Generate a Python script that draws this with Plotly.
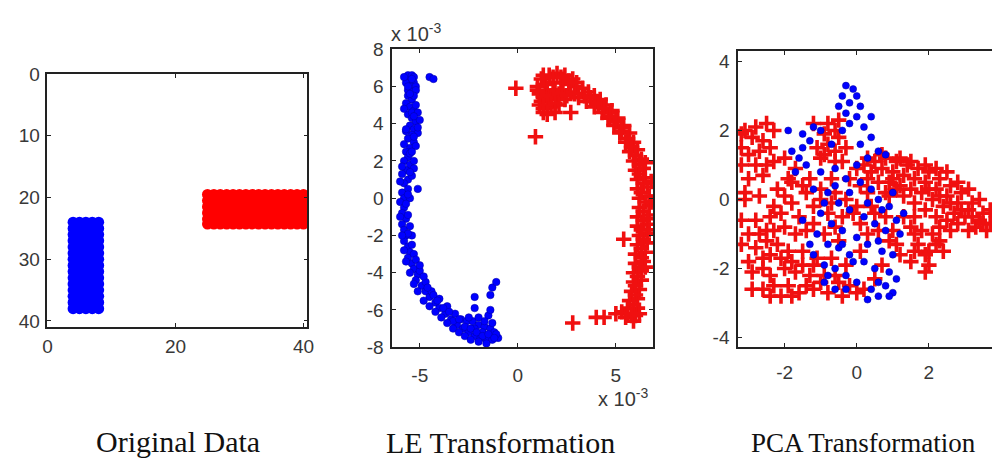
import plotly.graph_objects as go

# ---------------- Panel 1: Original Data ----------------
orig_blue_cols = [4, 5, 6, 7, 8]
orig_blue_rows = [24, 25, 26, 27, 28, 29, 30, 31, 32, 33, 34, 35, 36, 37, 38]
orig_red_cols = [25, 26, 27, 28, 29, 30, 31, 32, 33, 34, 35, 36, 37, 38, 39, 40]
orig_red_rows = [19.5, 20.5, 21.5, 22.5, 23.5, 24.3]

# ---------------- Panel 2: LE Transformation (units of 1e-3) ----------------
le_blue_x = [-5.6, -5.4, -5.3, -5.5, -5.7, -5.3, -5.5, -5.2, -5.6, -5.4, -5.2, -4.5, -4.3,
             -5.6, -5.4, -5.7, -5.5, -5.3, -5.6, -5.4, -5.2, -5.5, -5.3, -5.1, -5.4, -5.6, -5.3,
             -5.5, -5.7, -5.6, -5.8, -5.5, -5.7, -5.9, -5.6, -5.8, -5.6, -5.9, -5.1, -5.8, -6.0,
             -5.8, -5.9, -5.7, -5.9, -5.8, -5.7, -5.8, -5.6, -5.5, -5.6, -5.4, -5.3, -5.1, -5.2,
             -4.9, -4.7, -4.5, -4.2, -4.0, -3.7, -3.4, -3.1, -2.8, -2.5, -2.2, -1.9, -1.6, -1.3,
             -1.0, -5.4, -5.3, -5.0, -4.7, -4.4, -4.0, -3.6, -3.2, -2.9, -2.6, -2.3, -2.0, -1.7,
             -1.4, -1.2, -2.2, -1.8, -1.5, -1.4, -2.2, -2.2, -1.4, -1.3, -1.1, -1.1, -2.5,
             -5.3, -5.4, -5.5, -5.4, -5.7, -5.5,
             -5.3, -5.2, -5.1, -5.0, -5.3, -5.1, -5.3, -5.2, -5.4, -5.3, -5.5, -5.6, -5.7, -5.6,
             -5.5, -5.6, -5.4, -5.2, -5.0, -4.8, -4.6, -4.3, -4.1, -3.8, -3.5, -3.3, -3.0, -2.7,
             -2.4, -2.1, -1.8, -1.5, -1.3, -1.7, -2.0, -1.2, -5.8, -5.4, -5.6, -5.5, -5.8, -5.7,
             -5.8, -5.9, -6.0, -6.0, -5.9, -5.8, -5.7, -5.5, -5.3, -5.1, -4.8, -4.5, -4.2, -3.9,
             -3.6, -3.3, -3.0, -2.7, -2.4, -2.0, -1.6]
le_blue_y = [6.6, 6.6, 6.5, 6.3, 6.2, 6.2, 6.0, 6.0, 5.8, 5.7, 5.8, 6.5, 6.4,
             5.5, 5.3, 5.1, 4.9, 4.7, 4.5, 4.3, 4.1, 3.9, 3.7, 3.5, 3.4, 3.2, 3.0,
             2.7, 2.5, 2.2, 2.0, 1.8, 1.5, 1.3, 1.0, 0.8, 0.5, 0.3, 0.5, 0.0, -0.2,
             -0.5, -0.8, -1.1, -1.4, -1.7, -2.0, -2.3, -2.6, -2.9, -3.2, -3.5, -3.8, -4.1, -4.4,
             -4.7, -5.0, -5.3, -5.6, -5.9, -6.2, -6.5, -6.8, -7.0, -7.2, -7.4, -7.5, -7.6, -7.6,
             -7.5, -2.0, -3.0, -3.9, -4.5, -5.0, -5.4, -5.8, -6.2, -6.5, -6.6, -6.6, -6.8, -6.9,
             -7.0, -7.2, -7.0, -7.2, -6.3, -6.0, -5.9, -5.3, -5.2, -4.8, -4.5, -7.3, -6.4,
             2.0, 1.2, 0.0, 4.6, 3.6, 2.4,
             5.5, 5.0, 4.6, 4.2, 4.4, 3.8, 3.3, 2.8, 2.5, 1.6, 1.4, 0.2, -0.3, -0.9,
             -1.5, -1.9, -2.5, -3.3, -3.6, -4.2, -4.8, -5.2, -5.5, -5.9, -6.1, -6.6, -6.5, -6.9,
             -7.0, -7.2, -7.4, -7.3, -6.7, -6.6, -6.4, -7.5, 6.5, 6.4, 6.0, 5.6, 4.8, 3.7,
             2.9, 1.7, 0.9, -1.0, -2.0, -2.8, -3.4, -4.0, -4.6, -5.0, -5.5, -5.8, -6.1, -6.4,
             -6.7, -7.0, -7.2, -7.4, -7.6, -7.7, -7.8]

le_red_x = [1.2, 1.6, 2.0, 2.4, 2.8, 1.0, 1.4, 1.8, 2.2, 2.6, 3.0, 1.1, 1.5, 1.9, 2.3, 2.7,
            1.2, 1.6, 2.0, 2.4, 1.3, 1.7, 2.1, 1.5,
            3.3, 3.6, 3.9, 4.2, 4.5, 4.8, 5.1, 5.4, 5.7, 5.9, 6.1, 6.3, 6.4, 6.5, 6.6, 6.7,
            6.7, 6.7, 6.6, 6.6, 6.6, 6.5, 6.4, 6.3, 6.3, 6.2, 6.1, 6.1, 6.0,
            3.1, 3.5, 3.9, 4.3, 4.6, 4.9, 5.2, 5.5, 5.7, 5.9, 6.0, 6.1, 6.1, 6.2, 6.2, 6.1,
            6.1, 6.2, 6.1, 6.0, 6.0, 5.9, 5.9, 5.8, 5.7, 5.6, 5.3, 5.5, 5.9, 5.0,
            4.0, 4.7, 5.3, 5.8, 6.2, 6.4, 6.5, 6.4, 6.4, 6.3, 6.1, 6.0,
            -0.1, 0.9, 2.7, 5.4, 2.8, 4.0, 4.4,
            1.3, 1.8, 2.2, 2.6, 3.0, 1.0, 1.3, 1.7, 2.1, 2.5, 2.9, 1.1, 1.5, 1.9, 1.3, 1.9,
            3.4, 3.7, 4.1, 4.4, 4.7, 5.0, 5.3, 5.6, 5.8, 6.0, 6.2, 6.3, 6.4, 6.3, 6.3, 6.2,
            6.0, 5.9, 5.6, 5.8, 6.2, 6.5, 6.6, 6.5, 6.8, 6.8, 6.7]
le_red_y = [6.4, 6.6, 6.7, 6.6, 6.4, 6.0, 6.1, 6.2, 6.2, 6.1, 6.0, 5.6, 5.7, 5.8, 5.8, 5.7,
            5.2, 5.3, 5.4, 5.3, 4.8, 4.9, 5.0, 4.5,
            5.9, 5.7, 5.5, 5.3, 5.0, 4.7, 4.3, 3.9, 3.5, 3.0, 2.6, 2.1, 1.6, 1.1, 0.6, 0.1,
            -0.4, -0.9, -1.4, -1.9, -2.4, -2.9, -3.4, -3.9, -4.4, -4.9, -5.4, -5.9, -6.3,
            5.4, 5.2, 4.9, 4.6, 4.3, 3.9, 3.5, 3.0, 2.5, 2.0, 1.5, 1.0, 0.5, 0.0, -0.5, -1.0,
            -1.5, -2.0, -2.5, -3.0, -3.5, -4.0, -4.5, -5.0, -5.5, -5.9, -6.1, -6.4, -6.6, -6.2,
            5.2, 4.6, 3.8, 2.8, 1.8, 0.8, -0.2, -1.2, -2.2, -3.2, -4.2, -5.2,
            5.9, 3.3, 4.6, -2.2, -6.7, -6.4, -6.4,
            6.6, 6.5, 6.5, 6.3, 6.2, 5.8, 5.4, 5.5, 5.6, 5.5, 5.6, 5.0, 5.0, 5.1, 4.6, 4.6,
            5.5, 5.4, 5.1, 4.8, 4.4, 4.1, 3.6, 3.2, 2.7, 2.3, 1.3, 0.3, -0.7, -1.7, -2.7, -3.7,
            -4.7, -5.7, -6.2, -6.3, -6.2, 1.9, -1.1, -3.7, -0.2, 0.9, -1.7]

# ---------------- Panel 3: PCA Transformation ----------------
pca_blue_x = [-0.3, -0.1, 0.0, -0.4, -0.2, 0.1, -0.5, -0.3, 0.0, -0.2, 0.2, -0.4, 0.4, 0.1, 0.6, 0.3, 0.8,
              -1.2, -1.0, -1.5, -1.6, -1.4, -1.7, -1.5, -1.3, -1.8, -1.9,
              -1.0, -0.6, -0.3, 0.1, 0.4, 0.6, 0.9, -0.8, -0.5, -0.2, 0.2, 0.5, 0.8, 1.1, 1.2,
              -1.0, -0.7, -0.4, 0.0, 0.3, 0.7, 1.0, -1.1, -0.8, -0.5, -0.2, 0.2, 0.5, 0.9, 1.1,
              -1.2, -0.9, -0.6, -0.3, 0.0, 0.4, 0.8, 1.0, 0.3, 0.6, -0.6, -0.9, -1.3, -1.5, -1.2,
              -0.3, 0.9, 1.3, 1.0, -0.6, -0.9, 0.3, 0.6, -0.2,
              -0.1, 0.6, 0.7, -0.4, -0.8, 0.0, -0.7, 0.4]
pca_blue_y = [3.3, 3.2, 3.0, 3.0, 2.8, 2.7, 2.7, 2.5, 2.4, 2.2, 2.1, 2.0, 1.8, 1.6, 1.4, 1.2, 1.3,
              2.1, 2.0, 1.5, 1.2, 1.0, 0.8, 1.9, 1.7, 1.4, 2.0,
              0.8, 0.9, 0.6, 0.5, 0.3, 0.0, -0.2, 0.2, -0.1, -0.3, -0.5, -0.7, -0.9, -0.6, -1.0,
              -0.4, -0.7, -0.9, -1.1, -1.3, -1.5, -1.6, -1.0, -1.3, -1.4, -1.6, -1.8, -2.0, -2.1, -2.3,
              -1.6, -1.9, -2.0, -2.2, -2.4, -2.6, -2.5, -2.7, -2.9, -2.8, -2.6, -2.4, -1.3, -0.6, 0.3,
              -2.6, -2.8, -0.4, 0.2, 0.4, -0.1, -0.1, -1.2, 0.2,
              -1.8, -2.4, -0.3, -1.3, -2.2, 1.0, 1.6, 2.4]

pca_red_x = [-3.1, -2.8, -2.5, -2.3, -2.9, -2.6, -3.2, -3.0, -2.8, -2.5, -2.3, -3.2, -2.6, -3.0,
             -1.2, -0.8, -0.6, -0.9, -0.5, -0.8, -1.1, -0.6, -0.3, -1.0, -0.4,
             0.2, 0.5, 0.8, 1.1, 1.4, 1.7, 2.0, 2.3, 2.6, 2.9, 3.2, 3.5, 3.7,
             0.4, 0.7, 1.0, 1.3, 1.6, 1.9, 2.2, 2.5, 2.8, 3.1, 3.4, 3.6,
             0.6, 0.9, 1.2, 1.5, 1.8, 2.1, 2.4, 2.7, 3.0, 3.3, 1.3, 1.6, 1.9, 2.2, 2.5,
             1.5, 1.8, 2.1, 2.3, 2.0, 1.7, 2.4, 2.0, 1.5, 1.9,
             -2.2, -2.0, -1.8, -2.3, -1.5, -1.3, -1.0, -0.6, -0.3, 0.0, 0.3, -1.6, -1.2, -0.8,
             -0.4, 0.1, 0.5, -2.0, -1.7, -1.4, -0.9, -0.5, 0.1, -2.2, -1.9, -1.5, -1.1, -0.7,
             -0.3, -2.0, -1.7, -1.3, -0.9, -0.5, -2.3, -1.9, -1.6, -2.6, -2.1, -1.2, -0.8, -0.4,
             0.0, 0.5, -2.6, -2.8, -3.0, -3.2, -2.8, -2.6, -3.0, -2.7, -3.1, -2.5, -2.9, 0.3,
             1.1, 0.7, 0.8, -1.5, -1.8, 0.1,
             -2.0, -1.7, -1.9, -1.4, -0.7, -0.2, 0.0, 0.3, 0.9, 0.6, 1.0, 1.3, 1.6, 2.8, 3.1,
             2.6, 2.3, 1.2, 0.9, 1.6, -2.4, -2.1, -2.5, -2.3, -2.7, -2.4, -2.1, -2.4, -1.8, -1.2,
             -1.0, -0.6, -0.2, 0.2, -1.4, -1.8, -2.4, -2.9, -1.0, -0.7, -0.1, 0.4, -1.2, -0.6,
             -3.2, -3.2, -2.7, -2.4, -3.1, -0.5, -0.9, -0.6, 0.3, 0.7, 1.2, 1.5, 1.9, 2.2, 2.5,
             2.8, 3.1, 3.4, 3.7, 2.0, 2.3, 2.6, 2.9, 3.2, 3.5, 1.0, 1.1, 0.8, 2.2, 1.9, 1.6]
pca_red_y = [2.0, 2.1, 2.2, 2.0, 1.8, 1.7, 1.5, 1.3, 1.0, 1.0, 1.1, 1.0, 0.7, 0.6,
             2.2, 2.2, 2.0, 1.9, 1.8, 1.6, 1.5, 1.4, 1.5, 1.2, 1.1,
             1.0, 1.1, 1.2, 1.1, 1.0, 0.9, 0.8, 0.6, 0.4, 0.2, -0.1, -0.4, -0.7,
             0.8, 0.9, 0.8, 0.7, 0.6, 0.5, 0.3, 0.1, -0.1, -0.3, -0.6, -0.9,
             0.5, 0.5, 0.4, 0.3, 0.2, 0.0, -0.2, -0.4, -0.5, -0.8, 0.1, -0.1, -0.3, -0.5, -0.6,
             -0.8, -0.9, -1.0, -1.2, -1.5, -1.3, -1.5, -1.9, -1.8, -2.1,
             0.3, 0.1, -0.1, -0.2, 0.4, 0.6, 0.3, 0.2, 0.0, -0.2, 0.2, -0.5, -0.2, -0.4,
             -0.5, -0.7, -0.4, -0.8, -1.0, -0.9, -1.0, -1.2, -1.5, -1.3, -1.5, -1.5, -1.7, -1.7,
             -1.9, -2.0, -2.1, -2.2, -2.2, -2.4, -2.5, -2.5, -2.7, -2.6, -2.8, -2.6, -2.7, -2.8,
             -2.7, -2.3, -1.7, -1.4, -1.0, -0.6, -0.6, -2.0, -1.8, 0.1, 0.2, -0.9, -2.1, -1.0,
             -1.3, -1.9, -0.5, -1.9, 0.5, 0.4,
             1.2, 0.9, 0.6, 0.2, 0.6, 0.6, 0.9, 0.6, 0.1, -0.9, -0.9, -0.5, -0.5, -0.7, -0.9,
             -0.9, -0.8, -1.6, -1.2, -1.0, -0.5, -0.4, -1.2, -0.9, -1.0, -1.6, -1.7, -2.2, -1.8, -1.9,
             -2.4, -2.2, -2.5, -2.6, -2.5, -2.8, -2.8, -2.6, 0.0, -0.1, -0.4, -0.2, -0.7, -0.8,
             -1.3, 1.9, 1.4, 1.5, 0.0, 2.3, 1.3, 1.1, 1.2, 1.3, 1.2, 1.1, 1.0, 0.9, 0.8,
             0.5, 0.3, 0.0, -0.3, 0.3, 0.1, -0.1, -0.3, -0.5, -0.7, 0.6, 0.3, 0.2, -1.3, -1.6, -1.5]

# ---------------- tick labels ----------------
p1_xticks = [0, 20, 40]
p1_yticks = [0, 10, 20, 30, 40]
p2_xticks = [-5, 0, 5]
p2_yticks = [-8, -6, -4, -2, 0, 2, 4, 6, 8]
p3_xticks = [-2, 0, 2]
p3_yticks = [-4, -2, 0, 2, 4]
panel_titles = ["Original Data", "LE Transformation", "PCA Transformation"]

W, H = 999, 470
BLUE = "#0000ff"
RED = "#ff0000"


def lbl(v):
    return str(v)


fig = go.Figure()

# panel 1 grid
b1x = [c for c in orig_blue_cols for r in orig_blue_rows]
b1y = [r for c in orig_blue_cols for r in orig_blue_rows]
r1x = [c for c in orig_red_cols for r in orig_red_rows]
r1y = [r for c in orig_red_cols for r in orig_red_rows]
fig.add_trace(go.Scatter(x=b1x, y=b1y, mode="markers", xaxis="x", yaxis="y",
                         marker=dict(color=BLUE, size=11, line=dict(width=0))))
fig.add_trace(go.Scatter(x=r1x, y=r1y, mode="markers", xaxis="x", yaxis="y",
                         marker=dict(color=RED, size=11, line=dict(width=0))))

red_cross = dict(symbol="cross-thin", size=11, color=RED, line=dict(color="#f01010", width=3.6))

# panel 2
fig.add_trace(go.Scatter(x=le_blue_x, y=le_blue_y, mode="markers", xaxis="x2", yaxis="y2",
                         marker=dict(color=BLUE, size=7.5, line=dict(color="#0000a0", width=0.5))))
fig.add_trace(go.Scatter(x=le_red_x, y=le_red_y, mode="markers", xaxis="x2", yaxis="y2",
                         marker=red_cross))

# panel 3
fig.add_trace(go.Scatter(x=pca_red_x, y=pca_red_y, mode="markers", xaxis="x3", yaxis="y3",
                         marker=red_cross))
fig.add_trace(go.Scatter(x=pca_blue_x, y=pca_blue_y, mode="markers", xaxis="x3", yaxis="y3",
                         marker=dict(color=BLUE, size=7, line=dict(color="#0000a0", width=0.5))))


def px2fx(p):
    return p / W


def px2fy(p):
    return 1 - p / H


tickfont = dict(family="Liberation Sans, Arial, sans-serif", size=19, color="#383838")
axis_common = dict(showgrid=False, zeroline=False, showline=True, linecolor="#222222",
                   linewidth=1.6, ticks="inside", ticklen=4, tickcolor="#222222",
                   tickwidth=1.2, tickfont=tickfont, fixedrange=True)

layout_axes = dict(
    xaxis=dict(axis_common, domain=[px2fx(43), px2fx(306)], range=[0, 40.6], anchor="y",
               mirror="allticks", tickvals=p1_xticks, ticktext=[lbl(v) for v in p1_xticks],
               ticklabelstandoff=1),
    yaxis=dict(axis_common, domain=[px2fy(332), px2fy(67)], range=[41, 0], anchor="x",
               mirror="allticks", tickvals=p1_yticks, ticktext=[lbl(v) for v in p1_yticks],
               ticklabelstandoff=2),
    xaxis2=dict(axis_common, domain=[px2fx(392), px2fx(656)], range=[-6.4, 6.9], anchor="y2",
                mirror="allticks", tickvals=p2_xticks, ticktext=[lbl(v) for v in p2_xticks],
                ticklabelstandoff=10),
    yaxis2=dict(axis_common, domain=[px2fy(353), px2fy(41)], range=[-8, 8], anchor="x2",
                mirror="allticks", tickvals=p2_yticks, ticktext=[lbl(v) for v in p2_yticks],
                ticklabelstandoff=3),
    xaxis3=dict(axis_common, domain=[px2fx(742), 1.0], range=[-3.29, 3.75], anchor="y3",
                mirror="allticks", tickvals=p3_xticks, ticktext=[lbl(v) for v in p3_xticks],
                ticklabelstandoff=7),
    yaxis3=dict(axis_common, domain=[px2fy(353), px2fy(43)], range=[-4.28, 4.3], anchor="x3",
                mirror=False, tickvals=p3_yticks, ticktext=[lbl(v) for v in p3_yticks],
                ticklabelstandoff=3),
)

sci_font = dict(family="Liberation Sans, Arial, sans-serif", size=20, color="#383838")
title_font = dict(family="Liberation Serif, Times New Roman, serif", size=30, color="#111111")

annotations = [
    dict(x=px2fx(416), y=px2fy(24), xref="paper", yref="paper", text="x 10<sup>-3</sup>",
         showarrow=False, font=sci_font, xanchor="center", yanchor="middle"),
    dict(x=px2fx(626), y=px2fy(406), xref="paper", yref="paper", text="x 10<sup>-3</sup>",
         showarrow=False, font=sci_font, xanchor="center", yanchor="middle"),
    dict(x=px2fx(175), y=px2fy(452), xref="paper", yref="paper", text=panel_titles[0],
         showarrow=False, font=title_font, xanchor="center", yanchor="middle"),
    dict(x=px2fx(502), y=px2fy(453), xref="paper", yref="paper", text=panel_titles[1],
         showarrow=False, font=title_font, xanchor="center", yanchor="middle"),
    dict(x=px2fx(869), y=px2fy(453), xref="paper", yref="paper", text=panel_titles[2],
         showarrow=False, font=dict(title_font, size=27), xanchor="center", yanchor="middle"),
]

fig.update_layout(width=W, height=H, margin=dict(l=0, r=0, t=0, b=0),
                  paper_bgcolor="white", plot_bgcolor="white", showlegend=False,
                  annotations=annotations, **layout_axes)

fig.write_html("out.html", config={"displayModeBar": False})
